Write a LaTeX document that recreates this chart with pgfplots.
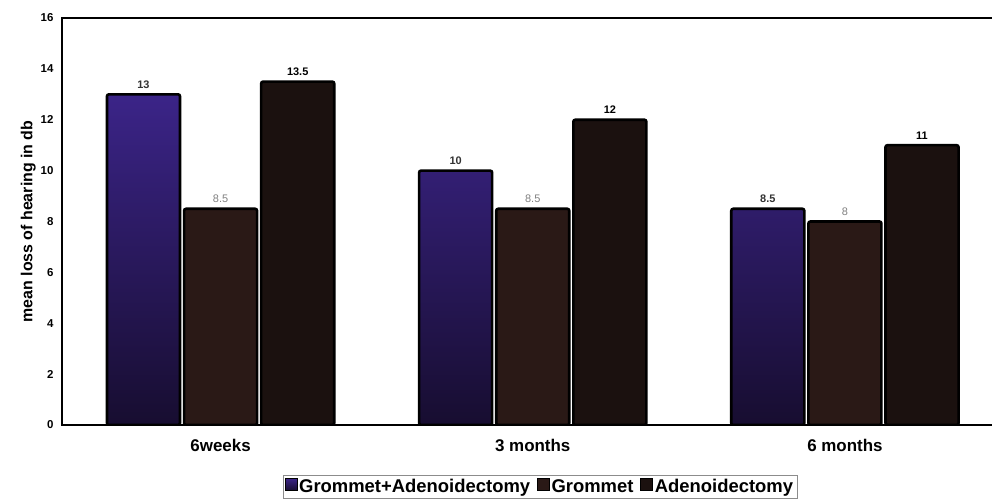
\documentclass[border=0pt]{standalone}
\usepackage{pgfplots}
\pgfplotsset{compat=1.18}
\usepackage{fontspec}
\setmainfont{Liberation Sans}

\definecolor{gaTop}{HTML}{3B2488}
\definecolor{gaBottom}{HTML}{170D30}
\definecolor{grom}{HTML}{2A1916}
\definecolor{aden}{HTML}{1B110F}

\pgfplotsset{/pgf/number format/assume math mode=true}

\begin{document}
\begin{tikzpicture}[x=1bp,y=1bp]
\begin{axis}[
  name=ax,
  scale only axis,
  width=939bp, height=407bp,
  xmin=-0.508, xmax=2.5,
  ymin=0, ymax=16,
  ytick={0,2,...,16},
  xtick={0,1,2},
  xticklabels={6weeks,3 months,6 months},
  major tick length=0pt,
  axis line style={black, line width=1.6bp},
  yticklabel style={font=\bfseries\fontsize{11.5}{13}\selectfont, xshift=-5bp},
  xticklabel style={font=\bfseries\fontsize{17}{19}\selectfont, yshift=-11bp},
  ylabel={mean loss of hearing in db},
  every axis y label/.style={at={(rel axis cs:-0.036,0.5)}, rotate=90, anchor=center,
    font=\bfseries\fontsize{16}{18}\selectfont},
  ybar, bar width=0.234,
  legend columns=-1,
  legend style={at={(rel axis cs:0.509,-0.152)}, anchor=center,
    draw=black!45, line width=0.6bp, inner sep=2bp,
    font=\bfseries\fontsize{18.5}{20}\selectfont,
    /tikz/every even column/.append style={column sep=5bp}},
  legend image code/.code={\draw[#1, line width=0.4bp, rounded corners=0pt] (0bp,-3.5bp) rectangle (12bp,8.5bp);},
  nodes near coords,
  every node near coord/.append style={font=\fontsize{11}{13}\selectfont, inner sep=4.5bp},
]
% Grommet + Adenoidectomy
\addplot[bar shift=-0.247, draw=black, line width=2.6bp, rounded corners=2bp,
  top color=gaTop, bottom color=gaBottom,
  every node near coord/.append style={text=black!80, font=\bfseries\fontsize{11}{13}\selectfont}]
  coordinates {(0,13) (1,10) (2,8.5)};
% Grommet
\addplot[bar shift=0, draw=black, line width=2.6bp, rounded corners=2bp,
  fill=grom,
  every node near coord/.append style={text=black!50}]
  coordinates {(0,8.5) (1,8.5) (2,8)};
% Adenoidectomy
\addplot[bar shift=0.247, draw=black, line width=2.6bp, rounded corners=2bp,
  fill=aden,
  every node near coord/.append style={text=black, font=\bfseries\fontsize{11}{13}\selectfont}]
  coordinates {(0,13.5) (1,12) (2,11)};
\legend{Grommet+Adenoidectomy, Grommet, Adenoidectomy}
\end{axis}
\pgfresetboundingbox
\path (ax.south west) ++(-62bp,-76bp) rectangle ++(992bp,501bp);
\end{tikzpicture}
\end{document}
